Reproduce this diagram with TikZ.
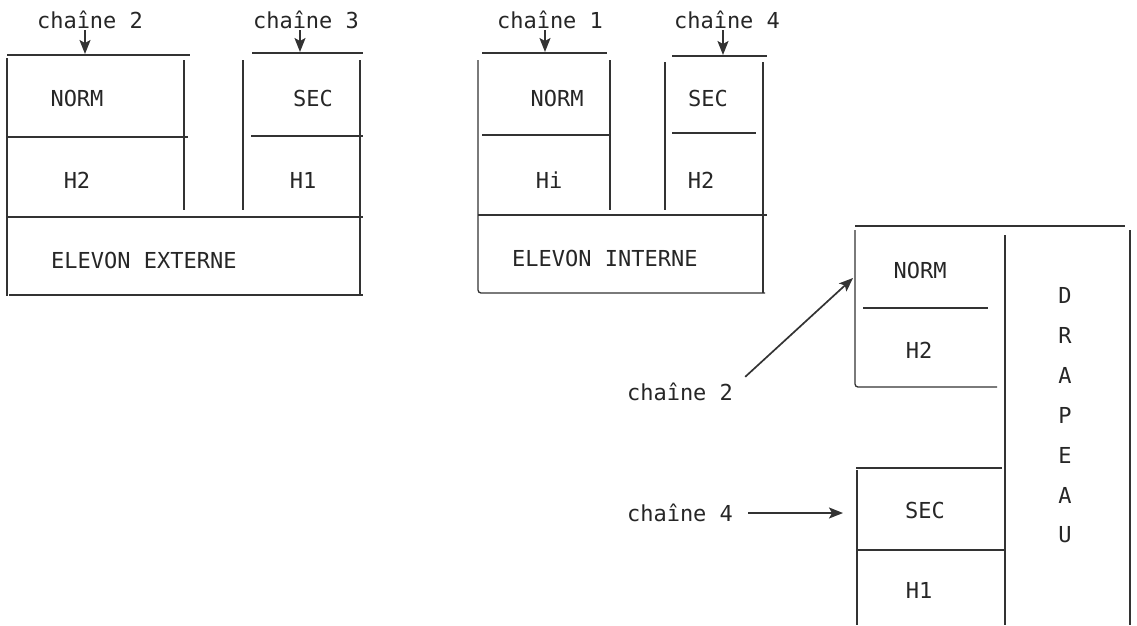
\documentclass[tikz,border=0pt]{standalone}
\usepackage{fontspec}
\setmonofont{DejaVu Sans Mono}
\usetikzlibrary{arrows.meta}

\tikzset{
  trait/.style={draw=black!80, line width=1.3pt},
  lbl/.style={font=\ttfamily\fontsize{22}{24}\selectfont, text=black!85, inner sep=1pt},
  fleche/.style={trait, line width=1.7pt, -{Stealth[length=14pt,width=11pt,inset=3pt]}},
}

\begin{document}
\begin{tikzpicture}[x=1pt,y=-1pt]
\useasboundingbox (0,0) rectangle (1137,625);

% 1. Elevon externe (haut gauche)
\draw[trait] (7,55) -- (190,55);
\draw[trait] (7,58) -- (7,296);
\draw[trait] (184,60) -- (184,210);
\draw[trait] (7,137) -- (188,137);
\draw[trait] (252,53) -- (363,53);
\draw[trait] (243,60) -- (243,210);
\draw[trait] (360,60) -- (360,295);
\draw[trait] (251,136) -- (363,136);
\draw[trait] (7,217) -- (363,217);
\draw[trait] (9,295) -- (363,295);
\node[lbl] (normext) at (77,98) {NORM};
\node[lbl] (htwoext) at (77,180) {H2};
\node[lbl] (secext) at (313,98) {SEC};
\node[lbl] (honeext) at (303,180) {H1};
\node[lbl, anchor=west] (elevext) at (50,260) {ELEVON EXTERNE};
\node[lbl] (chext2) at (90,20) {chaîne 2};
\node[lbl] (chext3) at (306,20) {chaîne 3};
\coordinate (tipext2) at (85,54);
\coordinate (tipext3) at (300,52);
\draw[fleche] (chext2.south -| tipext2) -- (tipext2);
\draw[fleche] (chext3.south -| tipext3) -- (tipext3);

% 2. Elevon interne (haut milieu)
\draw[trait] (482,53) -- (607,53);
\draw[trait, rounded corners=3pt] (478,60) -- (478,293) -- (765,293);
\draw[trait] (610,60) -- (610,210);
\draw[trait] (482,135) -- (610,135);
\draw[trait] (672,56) -- (767,56);
\draw[trait] (665,62) -- (665,210);
\draw[trait] (763,62) -- (763,293);
\draw[trait] (672,133) -- (756,133);
\draw[trait] (478,215) -- (767,215);
\node[lbl] (normint) at (557,98) {NORM};
\node[lbl] (hiint) at (549,180) {Hi};
\node[lbl] (secint) at (708,98) {SEC};
\node[lbl] (htwoint) at (701,180) {H2};
\node[lbl, anchor=west] (elevint) at (511,258) {ELEVON INTERNE};
\node[lbl] (chint1) at (550,20) {chaîne 1};
\node[lbl] (chint4) at (727,20) {chaîne 4};
\coordinate (tipint1) at (545,52);
\coordinate (tipint4) at (723,55);
\draw[fleche] (chint1.south -| tipint1) -- (tipint1);
\draw[fleche] (chint4.south -| tipint4) -- (tipint4);

% 3. Drapeau (bas droite)
\draw[trait] (855,226) -- (1125,226);
\draw[trait, rounded corners=3pt] (855,230) -- (855,387) -- (997,387);
\draw[trait] (863,308) -- (988,308);
\draw[trait] (1005,235) -- (1005,625);
\draw[trait] (1130,230) -- (1130,625);
\draw[trait] (856,468) -- (1002,468);
\draw[trait] (857,470) -- (857,625);
\draw[trait] (857,550) -- (1005,550);
\node[lbl] (normdra) at (920,270) {NORM};
\node[lbl] (htwodra) at (919,350) {H2};
\node[lbl] (secdra) at (925,510) {SEC};
\node[lbl] (honedra) at (919,590) {H1};
\foreach \lettre [count=\i] in {D,R,A,P,E,A,U}
  \node[lbl] (dra\i) at (1065,255+40*\i) {\lettre};
\node[lbl] (chdra2) at (680,392) {chaîne 2};
\node[lbl] (chdra4) at (680,513) {chaîne 4};
\coordinate (tipdra2) at (853,278);
\coordinate (tipdra4) at (843,513);
\draw[fleche] ([xshift=11pt,yshift=5pt]chdra2.north east) -- (tipdra2);
\draw[fleche] (chdra4.east) ++(14,0) -- (tipdra4);

\end{tikzpicture}
\end{document}
